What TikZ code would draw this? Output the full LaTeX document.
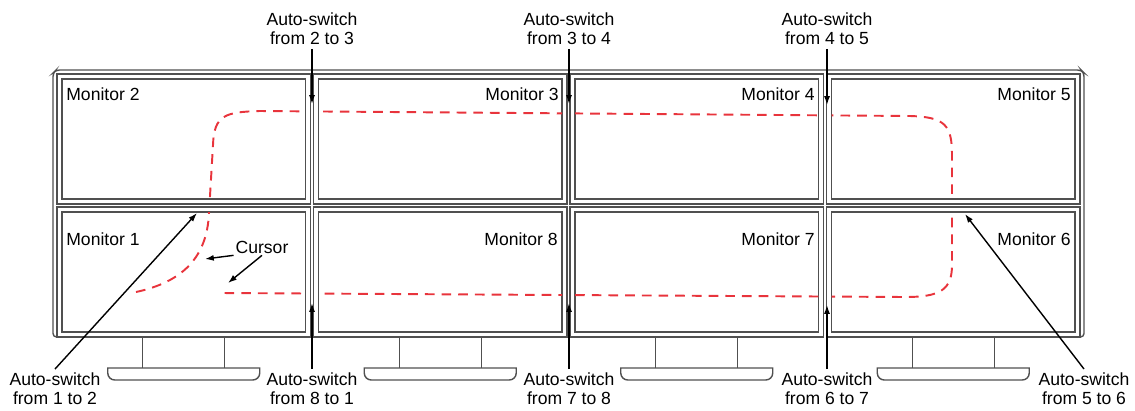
\documentclass[tikz,border=0pt]{standalone}
\usepackage{fontspec}
\setmainfont{Liberation Sans}
\usetikzlibrary{arrows.meta}

\definecolor{cursorred}{RGB}{232,52,60}
\definecolor{framegray}{RGB}{80,80,80}

\tikzset{
	bezel/.style={draw=framegray, line width=0.8pt},
	cursorline/.style={draw=cursorred, line width=1.1pt, dash pattern=on 5.5pt off 4pt},
	switch/.style={draw, line width=0.8pt, -{Latex[length=5pt,width=3.4pt]}},
	lbl/.style={align=center, font=\fontsize{10}{11}\selectfont, inner sep=2pt},
	mon/.style={font=\fontsize{10}{12}\selectfont, inner sep=0pt}
}

\begin{document}
\begin{tikzpicture}[x=0.02cm, y=-0.02cm]
	\useasboundingbox (0,0) rectangle (1135,410);

	% outer frame
	\draw[bezel, rounded corners=2] (57,337) -- (53,337) -- (53,73) -- (56,70) -- (1081,70) -- (1084,73) -- (1084,337) -- (1080,337);

	% bezels, screens and stands
	\foreach \i in {0,...,3} {
		\pgfmathsetmacro{\x}{57+256.5*\i}
		\pgfmathsetmacro{\c}{\x+126.75}
		\draw[bezel] (\x,74) rectangle ++(253.5,130);
		\draw[bezel] (\x+5,79) rectangle ++(243.5,120);
		\draw[bezel] (\x,207) rectangle ++(253.5,130);
		\draw[bezel] (\x+5,212) rectangle ++(243.5,120);
		\draw[bezel] (\c-41,337) -- (\c-41,368);
		\draw[bezel] (\c+41,337) -- (\c+41,368);
		\draw[bezel] (\c-76,368) -- (\c+76,368) {[rounded corners=4] -- (\c+76,380) -- (\c-76,380)} -- cycle;
	}

	% monitor names
	\node[mon, anchor=base west] (m2) at (66,100) {Monitor 2};
	\node[mon, anchor=base east] (m3) at (559,100) {Monitor 3};
	\node[mon, anchor=base east] (m4) at (815,100) {Monitor 4};
	\node[mon, anchor=base east] (m5) at (1071,100) {Monitor 5};
	\node[mon, anchor=base west] (m1) at (66,245) {Monitor 1};
	\node[mon, anchor=base east] (m8) at (558,245) {Monitor 8};
	\node[mon, anchor=base east] (m7) at (815,245) {Monitor 7};
	\node[mon, anchor=base east] (m6) at (1071,245) {Monitor 6};

	% cursor path, only seen on the screens
	\begin{scope}
		\clip (62,79) rectangle (305.5,199) (318.5,79) rectangle (562,199)
			(575,79) rectangle (818.5,199) (831.5,79) rectangle (1075,199)
			(62,212) rectangle (305.5,332) (318.5,212) rectangle (562,332)
			(575,212) rectangle (818.5,332) (831.5,212) rectangle (1075,332);
		\draw[cursorline] (136,292) .. controls (182,282) and (207,258) .. (209,213)
			-- (213,145) .. controls (214,115) and (225,112) .. (260,111)
			-- (910,116) .. controls (945,117) and (952,125) .. (952,155)
			-- (952,265) .. controls (952,290) and (940,297) .. (905,297)
			-- (222,293);
	\end{scope}

	% switch labels
	\node[lbl] (a23) at (312,29) {Auto-switch\\from 2 to 3};
	\node[lbl] (a34) at (569,29) {Auto-switch\\from 3 to 4};
	\node[lbl] (a45) at (827,29) {Auto-switch\\from 4 to 5};
	\node[lbl] (a12) at (55,389) {Auto-switch\\from 1 to 2};
	\node[lbl] (a81) at (312,389) {Auto-switch\\from 8 to 1};
	\node[lbl] (a78) at (569,389) {Auto-switch\\from 7 to 8};
	\node[lbl] (a67) at (827,389) {Auto-switch\\from 6 to 7};
	\node[lbl] (a56) at (1084,389) {Auto-switch\\from 5 to 6};
	\node[lbl, inner sep=1pt] (cur) at (262,247) {Cursor};

	\coordinate (t23) at (312,104);
	\coordinate (t34) at (569,104);
	\coordinate (t45) at (827,105);
	\coordinate (t12) at (197,213);
	\coordinate (t81) at (312,303);
	\coordinate (t78) at (569,303);
	\coordinate (t67) at (827,305);
	\coordinate (t56) at (965,214);
	\coordinate (tc1) at (205,259);
	\coordinate (tc2) at (228,283);

	\draw[switch] (a23) -- (t23);
	\draw[switch] (a34) -- (t34);
	\draw[switch] (a45) -- (t45);
	\draw[switch] (a12.north) -- (t12);
	\draw[switch] (a81) -- (t81);
	\draw[switch] (a78) -- (t78);
	\draw[switch] (a67) -- (t67);
	\draw[switch] (a56.north) -- (t56);
	\draw[switch] (cur.south west) -- (tc1);
	\draw[switch] (cur.south) -- (tc2);
\end{tikzpicture}
\end{document}
